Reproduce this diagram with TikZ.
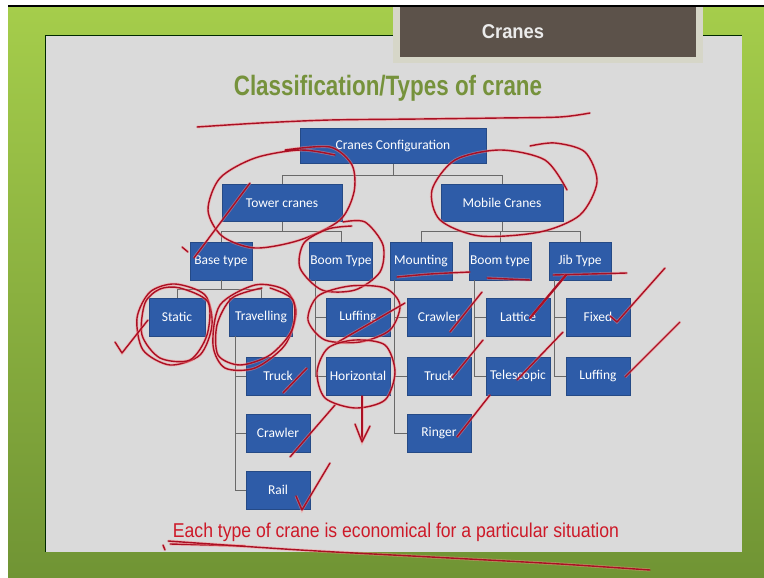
\documentclass[tikz,border=0pt]{standalone}
\usepackage{fontspec}
\setmainfont{Liberation Sans}
\newfontfamily\boxfont{Carlito}
\usetikzlibrary{arrows.meta}
\definecolor{boxblue}{RGB}{46,92,168}
\definecolor{linegrey}{RGB}{105,105,105}
\definecolor{inkred}{RGB}{170,15,35}
\definecolor{headgreen}{RGB}{118,146,60}
\definecolor{notered}{RGB}{205,25,40}
\definecolor{slidegrey}{RGB}{218,218,218}
\definecolor{tabbrown}{RGB}{92,82,74}
\definecolor{tabrim}{RGB}{214,214,200}
\definecolor{bgtop}{RGB}{165,205,75}
\definecolor{bgbot}{RGB}{112,148,52}
\tikzset{
    % Hierarchy boxes
    cbox/.style={rectangle, draw=boxblue!80!black, fill=boxblue, text=white,
                minimum width=#1, minimum height=38pt, inner sep=1pt,
                font=\boxfont\fontsize{13.5}{15}\selectfont},
    cbox/.default=64pt,
    % Connectors
    conn/.style={draw=linegrey, line width=1pt},
    % Hand-drawn pen marks
    ink/.style={preaction={draw=red!45, line width=3pt, opacity=0.45},
                draw=inkred, line width=1.4pt, line cap=round, line join=round},
    inkthick/.style={ink, line width=2.2pt},
}

\begin{document}
\begin{tikzpicture}[x=1pt, y=-1pt]
\useasboundingbox (0,0) rectangle (764,578);
% slide frame
\fill[white] (0,0) rectangle (764,578);
\shade[top color=bgtop, bottom color=bgbot] (8,7) rectangle (764,578);
\fill[black] (8,5) rectangle (764,7);
\fill[slidegrey] (45,35) rectangle (742,552);
\draw[black!60!green!40!black, line width=0.8pt] (45,552) -- (45,35) -- (742,35);
\fill[tabrim] (393,7) rectangle (703,63);
\fill[tabbrown] (400,7) rectangle (696,57);
\node[text=white!92!black, font=\bfseries\fontsize{20}{22}\selectfont] (tab) at (513,32) {\scalebox{0.92}[1]{Cranes}};
\node[text=headgreen, font=\bfseries\fontsize{28}{30}\selectfont] (title) at (388,88) {\scalebox{0.8}[1]{Classification/Types of crane}};

% hierarchy
\node[cbox=186pt, minimum height=35pt] (cfg) at (393,146) {Cranes Configuration};
\node[cbox=120pt, minimum height=37pt] (tower) at (282,203) {Tower cranes};
\node[cbox=122pt, minimum height=37pt] (mobile) at (502,203) {Mobile Cranes};

\node[cbox=62pt] (base)  at (221,261) {Base type};
\node[cbox=62pt] (tboom) at (341,261) {Boom Type};
\node[cbox=62pt] (mount) at (421,261) {Mounting};
\node[cbox=62pt] (mboom) at (500,261) {Boom type};
\node[cbox=62pt] (jib)   at (580,261) {Jib Type};

\node[cbox=56pt] (static) at (177,317) {Static};
\node[cbox=63pt] (travel) at (261,317) {Travelling};
\node[cbox] (ttruck)   at (278,376) {Truck};
\node[cbox] (tcrawler) at (278,433) {Crawler};
\node[cbox] (rail)     at (278,490) {Rail};
\node[cbox] (tluff)    at (358,317) {Luffing};
\node[cbox] (horiz)    at (358,376) {Horizontal};
\node[cbox] (mcrawler) at (439,317) {Crawler};
\node[cbox] (mtruck)   at (439,376) {Truck};
\node[cbox] (ringer)   at (439,433) {Ringer};
\node[cbox] (lattice)  at (518,317) {Lattice};
\node[cbox] (telesc)   at (518,376) {Telescopic};
\node[cbox] (fixed)    at (598,317) {Fixed};
\node[cbox] (mluff)    at (598,376) {Luffing};

\draw[conn] (cfg.south) -- ++(0,12) -| (tower.north);
\draw[conn] (cfg.south) -- ++(0,12) -| (mobile.north);
\draw[conn] (tower.south) -- ++(0,10) -| (base.north);
\draw[conn] (tower.south) -- ++(0,10) -| (tboom.north);
\draw[conn] (mobile.south) -- ++(0,10) -| (mount.north);
\draw[conn] (mobile.south) -- ++(0,10) -| (mboom.north);
\draw[conn] (mobile.south) -- ++(0,10) -| (jib.north);
\draw[conn] (base.south) -- ++(0,9) -| (static.north);
\draw[conn] (base.south) -- ++(0,9) -| (travel.north);
\draw[conn] ([xshift=6pt]travel.south west) |- (ttruck.west);
\draw[conn] ([xshift=6pt]travel.south west) |- (tcrawler.west);
\draw[conn] ([xshift=6pt]travel.south west) |- (rail.west);
\draw[conn] ([xshift=6pt]tboom.south west) |- (tluff.west);
\draw[conn] ([xshift=6pt]tboom.south west) |- (horiz.west);
\draw[conn] ([xshift=5pt]mount.south west) |- (mcrawler.west);
\draw[conn] ([xshift=5pt]mount.south west) |- (mtruck.west);
\draw[conn] ([xshift=5pt]mount.south west) |- (ringer.west);
\draw[conn] ([xshift=6pt]mboom.south west) |- (lattice.west);
\draw[conn] ([xshift=6pt]mboom.south west) |- (telesc.west);
\draw[conn] ([xshift=6pt]jib.south west) |- (fixed.west);
\draw[conn] ([xshift=6pt]jib.south west) |- (mluff.west);

\node[text=notered, font=\fontsize{20}{22}\selectfont] (note) at (396,532) {\scalebox{0.88}[1]{Each type of crane is economical for a particular situation}};

% pen marks
\draw[ink] plot[smooth] coordinates {(197,127) (260,123) (330,120) (420,119) (500,118) (560,117) (590,113)};
\draw[ink] plot[smooth] coordinates {(285,150) (330,147) (352,165) (354,192) (340,220) (300,240) (255,248) (222,236) (208,210) (220,178) (255,158) (300,150) (335,155)};
\draw[ink] (250,183) -- (194,258);
\draw[ink] (182,247) -- (188,252);
\draw[ink] plot[smooth] coordinates {(567,190) (545,160) (500,150) (455,160) (432,190) (440,220) (480,236) (540,232) (580,215) (597,182) (585,152) (555,143) (530,146)};
\draw[ink] plot[smooth] coordinates {(343,222) (365,222) (383,245) (380,272) (355,290) (322,290) (300,268) (304,243) (328,229) (352,226)};
\draw[ink] plot[smooth cycle] coordinates {(175,284) (205,295) (212,325) (200,355) (170,365) (143,350) (137,318) (150,292)};
\draw[ink] plot[smooth cycle] coordinates {(180,288) (208,302) (207,335) (190,360) (160,358) (142,335) (145,303) (160,289)};
\draw[ink] (115,342) -- (122,353) -- (148,320);
\draw[ink] plot[smooth cycle] coordinates {(255,285) (285,290) (296,312) (285,345) (255,368) (225,368) (213,345) (220,305)};
\draw[ink] plot[smooth] coordinates {(270,288) (293,300) (292,330) (270,355) (240,365) (218,355) (217,325) (232,298) (262,288)};
\draw[ink] plot[smooth cycle] coordinates {(350,286) (385,288) (400,305) (390,330) (360,342) (325,340) (308,320) (318,296)};
\draw[ink] (338,342) -- (405,303);
\draw[ink] plot[smooth cycle] coordinates {(355,340) (385,345) (395,372) (385,400) (355,408) (325,398) (317,372) (328,348)};
\draw[ink] (362,396) -- (362,440);
\draw[ink] (355,424) -- (362,442) -- (370,426);
\draw[ink] (283,393) -- (307,368);
\draw[ink] (290,457) -- (335,405);
\draw[ink] (296,496) -- (302,510) -- (330,463);
\draw[ink] plot[smooth] coordinates {(397,277) (430,274) (470,272)};
\draw[ink] (487,278) -- (530,280);
\draw[ink] (553,275) -- (627,273);
\draw[ink] (450,332) -- (482,292);
\draw[ink] (452,378) -- (483,340);
\draw[ink] (457,437) -- (490,395);
\draw[inkthick] (530,318) -- (566,275);
\draw[ink] (517,380) -- (563,332);
\draw[ink] (610,316) -- (617,322) -- (665,268);
\draw[ink] (625,377) -- (680,322);
\draw[ink] (163,545) -- (165,550);
\draw[ink] (170,544) -- (245,546);
\draw[ink] plot[smooth] coordinates {(168,541) (300,550) (450,558) (560,564) (650,570)};
\end{tikzpicture}
\end{document}
